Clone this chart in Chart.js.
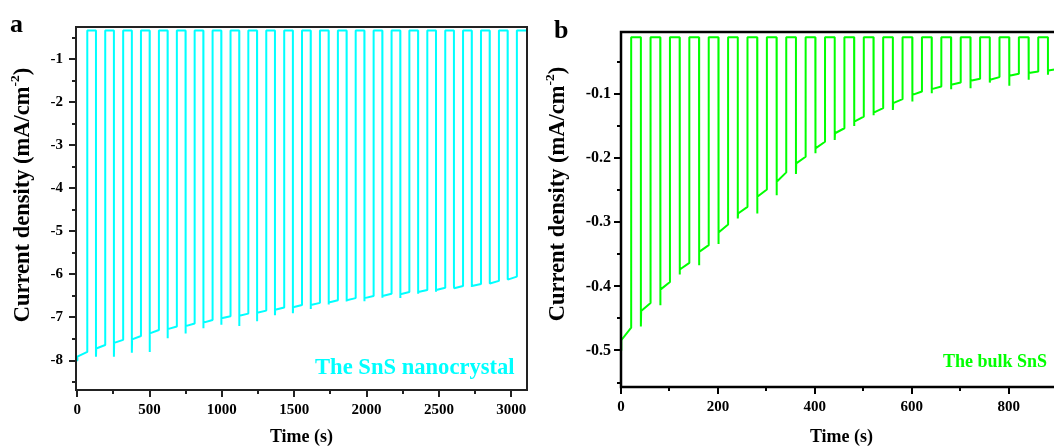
<!DOCTYPE html>
<html><head><meta charset="utf-8">
<script src="https://cdn.jsdelivr.net/npm/chart.js@4.4.1/dist/chart.umd.min.js"></script>
<style>
html,body{margin:0;padding:0;background:#fff;overflow:hidden;width:1054px;height:446px;}
#wrap{position:relative;width:1054px;height:446px;overflow:hidden;background:#fff;}
.cv{position:absolute;top:0;}
.t{position:absolute;font-family:"Liberation Serif","Times New Roman",serif;font-weight:bold;white-space:nowrap;line-height:1;}
.yt{transform:translate(-50%,-50%) rotate(-90deg);font-size:22.5px;color:#000;}
.yt sup{font-size:0.6em;line-height:0;vertical-align:0.75em;}
</style></head><body>
<div id="wrap">
<canvas id="ca" class="cv" width="540" height="446" style="left:0"></canvas>
<canvas id="cb" class="cv" width="540" height="446" style="left:540px"></canvas>
<div class="t" style="left:10px;top:11px;font-size:26px">a</div>
<div class="t" style="left:554px;top:16.5px;font-size:26px">b</div>
<div class="t yt" style="left:22px;top:195px">Current density (mA/cm<sup>-2</sup>)</div>
<div class="t yt" style="left:557px;top:194px">Current density (mA/cm<sup>-2</sup>)</div>
<div class="t" style="left:315px;top:356px;font-size:22.6px;color:#00ffff">The SnS nanocrystal</div>
<div class="t" style="left:943px;top:352px;font-size:18px;color:#00ff00">The bulk SnS</div>
</div>
<script>
// ---------- Panel a : SnS nanocrystal ----------
const aLightStart = [0, 130, 254, 378, 501, 625, 749, 872, 996, 1120, 1243, 1367, 1491, 1614, 1738, 1862, 1985, 2109, 2233, 2356, 2480, 2604, 2727, 2851, 2975];
const aDarkStart  = [70, 194, 318, 441, 565, 689, 812, 936, 1060, 1183, 1307, 1431, 1554, 1678, 1802, 1925, 2049, 2173, 2296, 2420, 2544, 2667, 2791, 2915, 3039];
const aSpike = [-8.00, -7.91, -7.91, -7.82, -7.80, -7.48, -7.37, -7.25, -7.17, -7.20, -7.09, -6.95, -6.90, -6.80, -6.70, -6.63, -6.62, -6.54, -6.55, -6.45, -6.40, -6.26, -6.29, -6.19, -6.10];
const aStart = [-7.91, -7.72, -7.59, -7.51, -7.37, -7.27, -7.20, -7.12, -7.02, -6.96, -6.89, -6.82, -6.76, -6.71, -6.65, -6.60, -6.55, -6.50, -6.46, -6.41, -6.36, -6.32, -6.27, -6.21, -6.12];
const aEnd   = [-7.80, -7.64, -7.52, -7.43, -7.29, -7.21, -7.14, -7.06, -6.97, -6.91, -6.84, -6.77, -6.71, -6.66, -6.60, -6.55, -6.50, -6.45, -6.41, -6.36, -6.31, -6.27, -6.22, -6.15, -6.05];
const aDark = -0.33;
const aLastTime = 3105;
const aXTicks = [0, 500, 1000, 1500, 2000, 2500, 3000];
const aXMinor = [250, 750, 1250, 1750, 2250, 2750];
const aYTicks = [-1, -2, -3, -4, -5, -6, -7, -8];
const aYMinor = [-0.5, -1.5, -2.5, -3.5, -4.5, -5.5, -6.5, -7.5, -8.5];

// ---------- Panel b : bulk SnS ----------
const bLightStart = [0, 41, 81, 121, 161, 201, 241, 281, 321, 361, 401, 441, 481, 521, 561, 601, 641, 681, 721, 761, 801, 841, 881];
const bDarkStart  = [21, 61, 101, 141, 181, 221, 261, 301, 341, 381, 421, 461, 501, 541, 581, 621, 661, 701, 741, 781, 821, 861, 901];
const bSpike = [-0.500, -0.4625, -0.4296, -0.3815, -0.367, -0.334, -0.294, -0.2862, -0.2576, -0.2247, -0.1923, -0.1715, -0.1496, -0.133, -0.1246, -0.1116, -0.0984, -0.0922, -0.0906, -0.082, -0.087, -0.0776, -0.0698];
const bStart = [-0.484, -0.4385, -0.405, -0.3737, -0.3462, -0.316, -0.2862, -0.2602, -0.2367, -0.208, -0.1845, -0.161, -0.1429, -0.1288, -0.1141, -0.1011, -0.0922, -0.0854, -0.0792, -0.0776, -0.0714, -0.0671, -0.063];
const bEnd   = [-0.4645, -0.426, -0.393, -0.3634, -0.3357, -0.3033, -0.2759, -0.2487, -0.2221, -0.1977, -0.1742, -0.1532, -0.135, -0.1219, -0.1078, -0.0959, -0.0881, -0.0818, -0.076, -0.0734, -0.0682, -0.0646, -0.0609];
const bDark = -0.011;
const bLastTime = 910;
const bXTicks = [0, 200, 400, 600, 800];
const bXMinor = [100, 300, 500, 700, 900];
const bYTicks = [-0.1, -0.2, -0.3, -0.4, -0.5];
const bYMinor = [-0.05, -0.15, -0.25, -0.35, -0.45, -0.55];

function buildSeries(light, dark, spike, start, end, high, lastT, dt) {
  const pts = [];
  for (let k = 0; k < light.length; k++) {
    if (k > 0) pts.push({x: light[k], y: high});
    pts.push({x: light[k], y: spike[k]});
    pts.push({x: light[k] + dt, y: start[k]});
    pts.push({x: dark[k], y: end[k]});
    pts.push({x: dark[k], y: high});
  }
  pts.push({x: lastT, y: high});
  return pts;
}

const FONT = '"Liberation Serif","Times New Roman",serif';

const frameTicks = {
  id: 'frameTicks',
  afterDraw(chart, args, o) {
    const {ctx, chartArea: a, scales: {x, y}} = chart;
    ctx.save();
    ctx.strokeStyle = o.color;
    ctx.lineWidth = o.frame;
    ctx.strokeRect(a.left, a.top, a.right - a.left, a.bottom - a.top);
    ctx.lineWidth = 2;
    ctx.beginPath();
    const tick = (vals, len, horiz) => vals.forEach(v => {
      if (horiz) { const p = Math.round(x.getPixelForValue(v)); ctx.moveTo(p, a.bottom); ctx.lineTo(p, a.bottom + len); }
      else { const p = Math.round(y.getPixelForValue(v)); ctx.moveTo(a.left, p); ctx.lineTo(a.left - len, p); }
    });
    tick(o.xMajor, 7, true); tick(o.xMinor, 4, true);
    tick(o.yMajor, 7, false); tick(o.yMinor, 4, false);
    ctx.stroke();
    ctx.restore();
  }
};

function makeChart(id, pts, color, xr, yr, ticks, sizes) {
  return new Chart(document.getElementById(id), {
    type: 'line',
    data: {datasets: [{data: pts, borderColor: color, borderWidth: 2, pointRadius: 0, tension: 0, fill: false, borderJoinStyle: 'bevel'}]},
    options: {
      responsive: false, animation: false, devicePixelRatio: 1,
      layout: {padding: sizes.pad},
      plugins: {legend: {display: false}, tooltip: {enabled: false},
        frameTicks: {xMajor: ticks.xMajor, xMinor: ticks.xMinor, yMajor: ticks.yMajor, yMinor: ticks.yMinor, frame: sizes.frame, color: sizes.frameColor}},
      scales: {
        x: {type: 'linear', min: xr[0], max: xr[1],
          grid: {display: false, drawTicks: false, tickLength: 0}, border: {display: false},
          afterBuildTicks: s => { s.ticks = ticks.xMajor.map(v => ({value: v})); },
          afterFit: s => { s.height = sizes.xh; },
          ticks: {font: {family: FONT, weight: 'bold', size: sizes.fx}, color: '#000', padding: sizes.xpad, maxRotation: 0, autoSkip: false,
            callback: v => String(v)},
          title: {display: true, text: 'Time (s)', color: '#000', font: {family: FONT, weight: 'bold', size: 18, lineHeight: 1}, padding: {top: 0, bottom: sizes.tpb}}
        },
        y: {type: 'linear', min: yr[0], max: yr[1],
          grid: {display: false, drawTicks: false, tickLength: 0}, border: {display: false},
          afterBuildTicks: s => { s.ticks = ticks.yMajor.map(v => ({value: v})); },
          afterFit: s => { s.width = sizes.yw; },
          ticks: {font: {family: FONT, weight: 'bold', size: sizes.fy}, color: '#000', padding: sizes.ypad, autoSkip: false,
            callback: v => String(v)}
        }
      }
    },
    plugins: [frameTicks]
  });
}

makeChart('ca', buildSeries(aLightStart, aDarkStart, aSpike, aStart, aEnd, aDark, aLastTime, 1.5), '#00ffff',
  [-8, 3109], [-8.685, -0.25],
  {xMajor: aXTicks, xMinor: aXMinor, yMajor: aYTicks, yMinor: aYMinor},
  {pad: {top: 27, right: 13, left: 0, bottom: 0}, xh: 56, yw: 76, fx: 15, fy: 15, xpad: 11, ypad: 13, tpb: 0, frame: 2, frameColor: '#222'});

makeChart('cb', buildSeries(bLightStart, bDarkStart, bSpike, bStart, bEnd, bDark, bLastTime, 0.6), '#00ff00',
  [0, 910], [-0.557, -0.003],
  {xMajor: bXTicks, xMinor: bXMinor, yMajor: bYTicks, yMinor: bYMinor},
  {pad: {top: 32, right: 18, left: 0, bottom: 0}, xh: 59, yw: 81, fx: 15, fy: 16, xpad: 11, ypad: 10, tpb: 0, frame: 2.5, frameColor: '#000'});
</script>
</body></html>
